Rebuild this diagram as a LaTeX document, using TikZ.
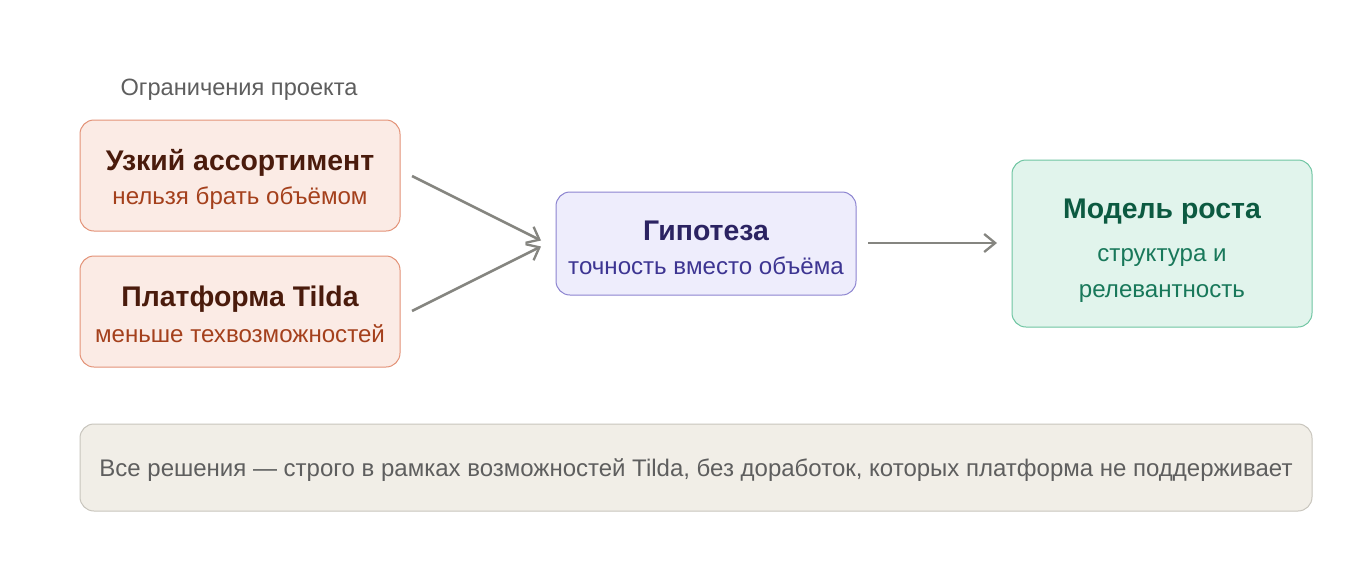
\documentclass[tikz,border=0pt]{standalone}
\usepackage{fontspec}
\setmainfont{Liberation Sans}
\usetikzlibrary{arrows.meta}
\definecolor{cfill}{HTML}{FBEBE5}
\definecolor{cdraw}{HTML}{E39277}
\definecolor{ctitle}{HTML}{4A1B0C}
\definecolor{csub}{HTML}{A4401C}
\definecolor{hfill}{HTML}{EEEDFC}
\definecolor{hdraw}{HTML}{8C84D0}
\definecolor{htitle}{HTML}{2B2362}
\definecolor{hsub}{HTML}{3D3592}
\definecolor{mfill}{HTML}{E1F4EC}
\definecolor{mdraw}{HTML}{6FC5A2}
\definecolor{mtitle}{HTML}{0C5A41}
\definecolor{msub}{HTML}{18785A}
\definecolor{bfill}{HTML}{F1EEE7}
\definecolor{bdraw}{HTML}{C8C5BD}
\definecolor{btext}{HTML}{5E5E5E}
\definecolor{arr}{HTML}{858580}
\tikzset{
  box/.style={rounded corners=14pt, line width=1pt, inner sep=0pt, minimum width=#1},
  ttl/.style={font=\fontsize{28.4}{32}\selectfont\bfseries, inner sep=0pt},
  sub/.style={font=\fontsize{24.1}{28}\selectfont, inner sep=0pt},
  conn/.style={draw=arr, line width=2.5pt, -{Straight Barb[length=11pt,width=18pt,line width=2.3pt]}}
}
\begin{document}
\begin{tikzpicture}[x=1pt,y=-1pt]
\useasboundingbox (0,0) rectangle (1360,560);
\fill[white] (0,0) rectangle (1360,560);
\node[font=\fontsize{23.6}{28}\selectfont, text=btext, inner sep=0pt] (head) at (239,90) {Ограничения проекта};
\node[box=320pt, minimum height=111pt, fill=cfill, draw=cdraw] (b1) at (240,175.5) {};
\node[box=320pt, minimum height=111pt, fill=cfill, draw=cdraw] (b2) at (240,311.5) {};
\node[box=300pt, minimum height=103pt, fill=hfill, draw=hdraw] (hyp) at (706,243.5) {};
\node[box=300pt, minimum height=167pt, fill=mfill, draw=mdraw] (mod) at (1162,243.5) {};
\node[box=1232pt, minimum height=87pt, fill=bfill, draw=bdraw] (note) at (696,467.5) {};
\node[ttl, text=ctitle] (b1t) at (240,162.5) {Узкий ассортимент};
\node[sub, text=csub] (b1s) at (240,198) {нельзя брать объёмом};
\node[ttl, text=ctitle] (b2t) at (240,299.5) {Платформа Tilda};
\node[sub, text=csub] (b2s) at (240,334) {меньше техвозможностей};
\node[ttl, text=htitle] (ht) at (706,230.5) {Гипотеза};
\node[sub, text=hsub] (hs) at (706,266) {точность вместо объёма};
\node[ttl, text=mtitle] (mt) at (1162,211.5) {Модель роста};
\node[sub, text=msub] (ms1) at (1162,258) {структура и};
\node[sub, text=msub] (ms2) at (1162,294) {релевантность};
\node[sub, text=btext, font=\fontsize{24}{28}\selectfont] (nt) at (696,470) {Все решения — строго в рамках возможностей Tilda, без доработок, которых платформа не поддерживает};
\coordinate (a1s) at (412,176);
\coordinate (a1e) at (541,240.5);
\coordinate (a2s) at (412,311);
\coordinate (a2e) at (541,246.5);
\coordinate (a3s) at (868,243);
\coordinate (a3e) at (997,243);
\draw[conn] (a1s) -- (a1e);
\draw[conn] (a2s) -- (a2e);
\draw[conn] (a3s) -- (a3e);
\end{tikzpicture}
\end{document}
